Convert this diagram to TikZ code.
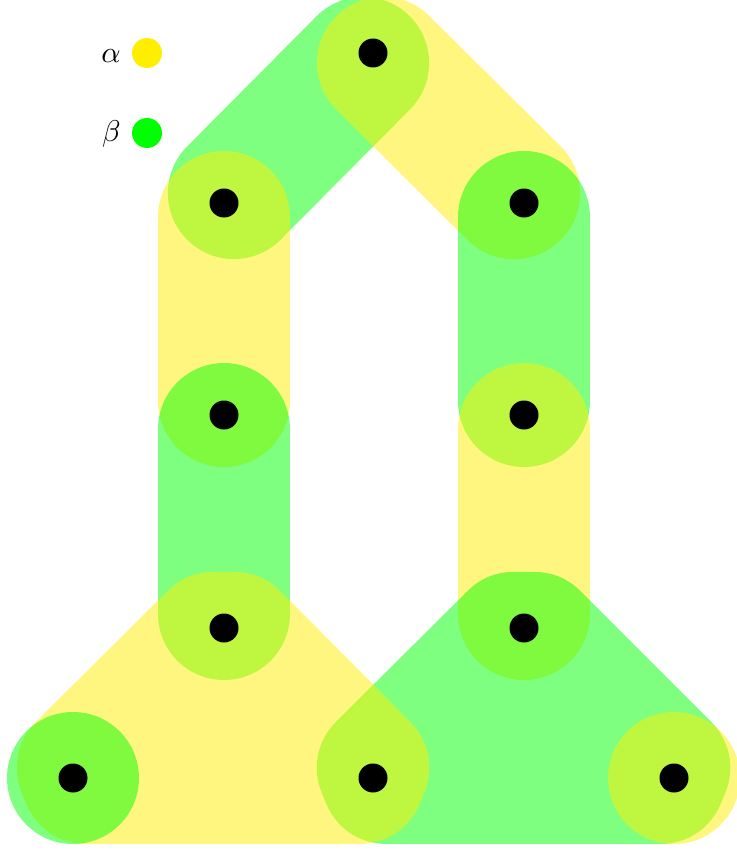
\documentclass[tikz,border=0pt]{standalone}
\usepackage{graphicx}
\usetikzlibrary{calc}
\definecolor{hy}{RGB}{255,238,0}
\definecolor{hg}{RGB}{0,255,0}
\pgfdeclarelayer{bg}
\pgfsetlayers{bg,main}
\tikzset{
  vdot/.style={circle,fill=black,inner sep=0pt,minimum size=29pt},
  hedge/.style={line width=132pt,line cap=round,line join=round},
  legdot/.style={circle,inner sep=0pt,minimum size=30pt},
  legtext/.style={anchor=base east,inner sep=0pt},
}
\newcommand\hpair[3]{\draw[hedge,#1,opacity=0.5] ($(#2.center)!14pt!(#3.center)$) -- ($(#3.center)!14pt!(#2.center)$);}
\newcommand\htri[4]{\begin{scope}[transparency group,opacity=0.5]
  \filldraw[hedge,#1] ($(#2.center)!14pt!(#3.center)$) -- ($(#3.center)!14pt!(#2.center)$)
    -- ($(#3.center)!14pt!(#4.center)$) -- ($(#4.center)!14pt!(#3.center)$)
    -- ($(#4.center)!14pt!(#2.center)$) -- ($(#2.center)!14pt!(#4.center)$) -- cycle;
  \end{scope}}
\begin{document}
\begin{tikzpicture}[x=1pt,y=-1pt]
\useasboundingbox (0,0) rectangle (736,851);
% vertices
\node[vdot] (t)  at (373,53) {};
\node[vdot] (l1) at (224,203) {};
\node[vdot] (r1) at (524,203) {};
\node[vdot] (l2) at (224,415) {};
\node[vdot] (r2) at (524,415) {};
\node[vdot] (l3) at (224,628) {};
\node[vdot] (r3) at (524,628) {};
\node[vdot] (b1) at (73,778) {};
\node[vdot] (b2) at (373,778) {};
\node[vdot] (b3) at (674,778) {};
% hyperedges
\begin{pgfonlayer}{bg}
  \hpair{hg}{t}{l1}
  \hpair{hy}{t}{r1}
  \hpair{hy}{l1}{l2}
  \hpair{hg}{r1}{r2}
  \hpair{hg}{l2}{l3}
  \hpair{hy}{r2}{r3}
  \htri{hg}{r3}{b2}{b3}
  \htri{hy}{l3}{b1}{b2}
  \fill[hg,opacity=0.5] (b1.center) circle[radius=66pt];
  \fill[hy,opacity=0.5] (b3.center) circle[radius=66pt];
\end{pgfonlayer}
% legend
\node[legdot,fill=hy] (dy) at (147,53) {};
\node[legdot,fill=hg] (dg) at (147,133) {};
\node[legtext] (la) at (121,63) {\scalebox{3}{$\alpha$}};
\node[legtext] (lb) at (121,141) {\scalebox{3}{$\beta$}};
\end{tikzpicture}
\end{document}
